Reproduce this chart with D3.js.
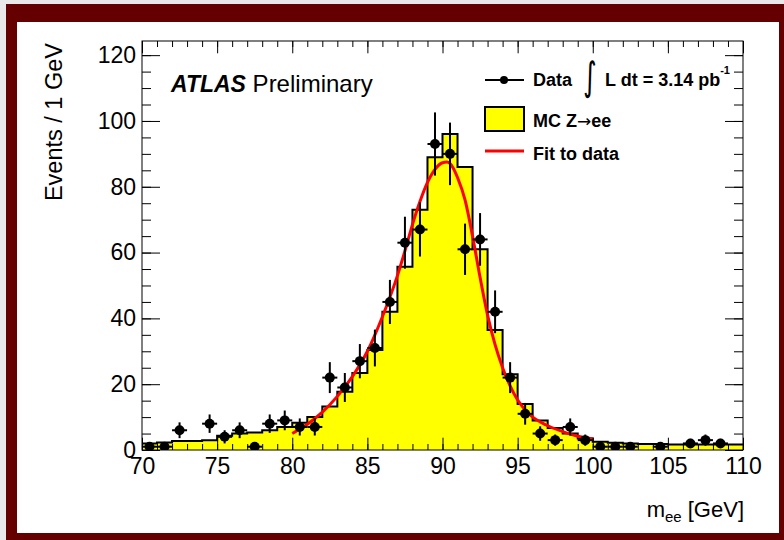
<!DOCTYPE html>
<html>
<head>
<meta charset="utf-8">
<script src="https://cdn.jsdelivr.net/npm/d3@7/dist/d3.min.js"></script>
<style>
  body { margin: 0; background: #e9e9e9; }
  svg { display: block; font-family: "Liberation Sans", Arial, sans-serif; }
</style>
</head>
<body>
<div id="chart"></div>
<script>
// Z -> ee invariant mass, 1 GeV bins from 70 to 110
const BIN_LOW = [70,71,72,73,74,75,76,77,78,79,80,81,82,83,84,85,86,87,88,89,
                 90,91,92,93,94,95,96,97,98,99,100,101,102,103,104,105,106,107,108,109];
const MC_VALUES = [2,2.3,2.7,2.7,3,4.3,5,5.3,6,7,8.3,10,13.2,17.7,23.4,30.4,42,55.7,73,89,
                   96,86,61,36.5,23,14,9,6.7,5,3.5,2.5,2.2,2,1.8,1.8,1.7,1.7,1.7,1.7,1.7];
// null = empty bin (no marker drawn)
const DATA_COUNTS = [1,1,6,null,8,4,6,1,8,9,7,7,22,19,27,31,45,63,67,93,
                     90,61,64,42,22,11,5,3,7,3,1,1,1,null,1,null,2,3,2,null];
const DATA_ERRORS = [1,1,2.4,null,2.8,2,2.4,1,2.8,3,2.6,2.6,4.7,4.4,5.2,5.6,6.7,7.9,8.2,9.6,
                     9.5,7.8,8,6.5,4.7,3.3,2.2,1.7,2.6,1.7,1,1,1,null,1,null,1.4,1.7,1.4,null];
const FIT_MASS   = [80,81,82,83,84,85,86,87,87.5,88,88.5,89,89.5,90,90.3,90.7,91,91.5,92,92.5,
                    93,93.5,94,94.5,95,95.8,96.9,98,99,100];
const FIT_VALUES = [5,7.8,11.5,16.3,22.3,30,40.5,53,60.5,68.5,75.5,81.3,85.3,87.3,87.5,85.8,82.8,76,65,52.5,
                    41,32,25,19.5,15.2,10.8,7.6,5.6,4.2,3.4];
const X_TICKS = [70,75,80,85,90,95,100,105,110];
const Y_TICKS = [0,20,40,60,80,100,120];

const W = 784, H = 540;
const plot = { left: 142, right: 743, top: 41, bottom: 450 };

const svg = d3.select("#chart").append("svg").attr("width", W).attr("height", H);

// canvas frame
svg.append("rect").attr("width", W).attr("height", H).attr("fill", "#e9e9e9");
svg.append("rect").attr("x", 6).attr("y", 4).attr("width", W - 6).attr("height", H - 4).attr("fill", "#640000");
svg.append("rect").attr("x", 17).attr("y", 22).attr("width", 762).attr("height", 511).attr("fill", "#fff");

const x = d3.scaleLinear().domain([70, 110]).range([plot.left, plot.right]);
const y = d3.scaleLinear().domain([0, 124.3]).range([plot.bottom, plot.top]);

svg.append("defs").append("clipPath").attr("id", "plot-clip")
    .append("rect").attr("x", plot.left).attr("y", plot.top)
    .attr("width", plot.right - plot.left).attr("height", plot.bottom - plot.top);

const g = svg.append("g").attr("clip-path", "url(#plot-clip)");

// MC histogram
const steps = BIN_LOW.map((b, i) => ({ m: b, v: MC_VALUES[i] }));
steps.push({ m: 110, v: MC_VALUES[MC_VALUES.length - 1] });

g.append("path").datum(steps)
    .attr("fill", "#ffff00")
    .attr("d", d3.area().curve(d3.curveStepAfter).x(d => x(d.m)).y0(y(0)).y1(d => y(d.v)));
g.append("path").datum(steps)
    .attr("fill", "none").attr("stroke", "#000").attr("stroke-width", 2)
    .attr("d", d3.line().curve(d3.curveStepAfter).x(d => x(d.m)).y(d => y(d.v)));

// fit
const fit = FIT_MASS.map((m, i) => ({ m, v: FIT_VALUES[i] }));
g.append("path").datum(fit)
    .attr("fill", "none").attr("stroke", "#ff0000").attr("stroke-width", 3)
    .attr("d", d3.line().curve(d3.curveMonotoneX).x(d => x(d.m)).y(d => y(d.v)));

// data points
const pts = BIN_LOW.map((b, i) => ({ c: b + 0.5, n: DATA_COUNTS[i], e: DATA_ERRORS[i] }))
    .filter(d => d.n !== null);
const pg = g.append("g").attr("stroke", "#000").attr("stroke-width", 2);
pg.selectAll(".ev").data(pts).enter().append("line")
    .attr("x1", d => x(d.c)).attr("x2", d => x(d.c))
    .attr("y1", d => y(d.n - d.e)).attr("y2", d => y(d.n + d.e));
pg.selectAll(".eh").data(pts).enter().append("line")
    .attr("x1", d => x(d.c - 0.5)).attr("x2", d => x(d.c + 0.5))
    .attr("y1", d => y(d.n)).attr("y2", d => y(d.n));
g.selectAll(".pt").data(pts).enter().append("circle")
    .attr("cx", d => x(d.c)).attr("cy", d => y(d.n)).attr("r", 5).attr("fill", "#000");

// axes (ROOT style: ticks inside on all four sides)
const minorX = d3.range(70, 111, 1), minorY = d3.range(0, 125, 5);
function ax(gen, tr) {
    const a = svg.append("g").attr("transform", tr).call(gen);
    a.select(".domain").remove();
    a.selectAll("line").attr("stroke", "#000");
    return a;
}
ax(d3.axisBottom(x).tickValues(minorX).tickSize(-6).tickFormat(""), `translate(0,${plot.bottom})`);
ax(d3.axisTop(x).tickValues(minorX).tickSize(-6).tickFormat(""), `translate(0,${plot.top})`);
ax(d3.axisTop(x).tickValues(X_TICKS).tickSize(-12.3).tickFormat(""), `translate(0,${plot.top})`);
const xb = ax(d3.axisBottom(x).tickValues(X_TICKS).tickSize(-12.3).tickPadding(8).tickFormat(d3.format("d")),
    `translate(0,${plot.bottom})`);
xb.selectAll("text").attr("font-size", 23).attr("fill", "#000");

ax(d3.axisLeft(y).tickValues(minorY).tickSize(-9).tickFormat(""), `translate(${plot.left},0)`);
ax(d3.axisRight(y).tickValues(minorY).tickSize(-9).tickFormat(""), `translate(${plot.right},0)`);
ax(d3.axisRight(y).tickValues(Y_TICKS).tickSize(-18).tickFormat(""), `translate(${plot.right},0)`);
const yl = ax(d3.axisLeft(y).tickValues(Y_TICKS).tickSize(-18).tickPadding(6).tickFormat(d3.format("d")),
    `translate(${plot.left},0)`);
yl.selectAll("text").attr("font-size", 23).attr("fill", "#000");

svg.append("rect").attr("x", plot.left).attr("y", plot.top)
    .attr("width", plot.right - plot.left).attr("height", plot.bottom - plot.top)
    .attr("fill", "none").attr("stroke", "#000").attr("stroke-width", 1);

// axis titles
svg.append("text").attr("transform", "translate(62,43) rotate(-90)")
    .attr("text-anchor", "end").attr("font-size", 23.5).text("Events / 1 GeV");
const xt = svg.append("text").attr("x", 744).attr("y", 517).attr("text-anchor", "end").attr("font-size", 22);
xt.append("tspan").text("m");
xt.append("tspan").attr("font-size", 15).attr("dy", 5).text("ee");
xt.append("tspan").attr("dy", -5).text(" [GeV]");

// ATLAS label
const at = svg.append("text").attr("x", 171).attr("y", 92).attr("font-size", 23);
at.append("tspan").attr("font-weight", "bold").attr("font-style", "italic").text("ATLAS");
at.append("tspan").attr("font-size", 24).text(" Preliminary");

// legend
const lg = svg.append("g").attr("font-weight", "bold").attr("font-size", 18);
lg.append("line").attr("x1", 485).attr("x2", 524).attr("y1", 80).attr("y2", 80)
    .attr("stroke", "#000").attr("stroke-width", 2);
lg.append("circle").attr("cx", 504).attr("cy", 80).attr("r", 4).attr("fill", "#000");
lg.append("text").attr("x", 533).attr("y", 86).text("Data");
lg.append("rect").attr("x", 485).attr("y", 107).attr("width", 39).attr("height", 24)
    .attr("fill", "#ffff00").attr("stroke", "#000").attr("stroke-width", 2);
const mc = lg.append("text").attr("x", 533).attr("y", 127);
mc.append("tspan").text("MC Z");
mc.append("tspan").attr("font-weight", "normal").attr("font-family", "DejaVu Sans").attr("font-size", 17).text("\u2192");
mc.append("tspan").text("ee");
lg.append("line").attr("x1", 485).attr("x2", 524).attr("y1", 151).attr("y2", 151)
    .attr("stroke", "#ff0000").attr("stroke-width", 3);
lg.append("text").attr("x", 533).attr("y", 160).text("Fit to data");

// luminosity
lg.append("text").attr("transform", "translate(583,90) scale(1,1.5)").attr("font-weight", "normal")
    .attr("font-family", "DejaVu Sans").attr("font-size", 26).text("\u222B");
const lum = lg.append("text").attr("x", 605).attr("y", 86);
lum.append("tspan").text("L dt = 3.14 pb");
lum.append("tspan").attr("font-size", 11).attr("dy", -12).text("-1");
</script>
</body>
</html>
